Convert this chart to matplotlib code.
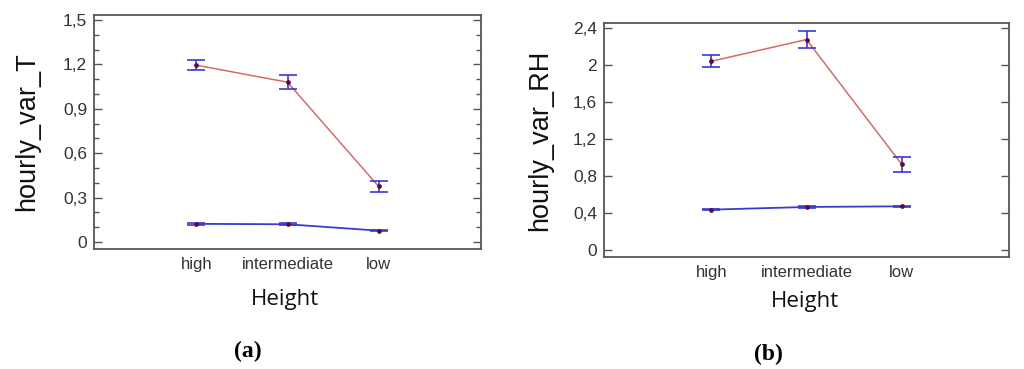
import matplotlib
matplotlib.use("Agg")
import matplotlib.pyplot as plt
from matplotlib.ticker import MultipleLocator, FuncFormatter

categories = ["high", "intermediate", "low"]

# Panel (a): hourly_var_T
t_red = [1.195, 1.08, 0.376]
t_red_err = [0.032, 0.048, 0.038]
t_blue = [0.123, 0.12, 0.077]
t_blue_err = [0.006, 0.006, 0.005]

# Panel (b): hourly_var_RH
rh_red = [2.04, 2.275, 0.925]
rh_red_err = [0.063, 0.095, 0.081]
rh_blue = [0.436, 0.465, 0.472]
rh_blue_err = [0.008, 0.008, 0.006]

t_ticks = [0, 0.3, 0.6, 0.9, 1.2, 1.5]
rh_ticks = [0, 0.4, 0.8, 1.2, 1.6, 2.0, 2.4]

RED = "#d46a6a"
BLUE = "#3a3ad0"
DOT = "#5a0a40"
SPINE = "#555555"
TXT = "#333333"
SANS = "Liberation Sans"


def comma_fmt(v, pos):
    s = ("%.1f" % v).rstrip("0").rstrip(".")
    return s.replace(".", ",")


fig = plt.figure(figsize=(10.24, 3.69), dpi=100)
ax1 = fig.add_axes([94 / 1024, 1 - 249 / 369, 387 / 1024, 234 / 369])
ax2 = fig.add_axes([604 / 1024, 1 - 257 / 369, 405 / 1024, 234 / 369])


def draw(ax, red, red_err, blue, blue_err, ticks, ylim, minor, ylabel, lpad):
    x = list(range(len(categories)))
    ax.plot(x, red, color=RED, lw=1.1, zorder=2)
    ax.plot(x, blue, color=BLUE, lw=1.3, zorder=2)
    for vals, errs in ((red, red_err), (blue, blue_err)):
        ax.errorbar(x, vals, yerr=errs, fmt="none", ecolor=BLUE, elinewidth=1.2,
                    capsize=6.2, capthick=1.2, zorder=3)
        ax.plot(x, vals, "o", ms=2.4, color=DOT, zorder=4)
    ax.set_xlim(-1.125, 3.125)
    ax.set_ylim(*ylim)
    ax.set_yticks(ticks)
    if minor:
        ax.yaxis.set_minor_locator(MultipleLocator(minor))
    ax.yaxis.set_major_formatter(FuncFormatter(comma_fmt))
    ax.set_xticks(x)
    ax.set_xticklabels(categories, family=SANS, fontsize=12, color=TXT)
    ax.tick_params(axis="x", length=0, pad=6)
    ax.tick_params(axis="y", which="major", direction="in", length=6, width=1,
                   color=SPINE, left=True, right=True, labelsize=12.5,
                   labelcolor=TXT, pad=5)
    ax.tick_params(axis="y", which="minor", direction="in", length=3.5, width=1,
                   color=SPINE, left=True, right=True)
    for lab in ax.get_yticklabels():
        lab.set_family(SANS)
    for sp in ax.spines.values():
        sp.set_color(SPINE)
        sp.set_linewidth(1.3)
    ax.set_ylabel(ylabel, family=SANS, fontsize=19.5, color="#111111", labelpad=lpad)


draw(ax1, t_red, t_red_err, t_blue, t_blue_err, t_ticks, (-0.047, 1.534), 0.1,
     "hourly_var_T", 16)
draw(ax2, rh_red, rh_red_err, rh_blue, rh_blue_err, rh_ticks, (-0.076, 2.454), None,
     "hourly_var_RH", 14)

fig.text(285 / 1024, 1 - 300 / 369, "Height", family="Open Sans", fontsize=16,
         ha="center", va="center", color="#111111")
fig.text(805 / 1024, 1 - 302 / 369, "Height", family="Open Sans", fontsize=16,
         ha="center", va="center", color="#111111")
fig.text(248 / 1024, 1 - 351 / 369, "(a)", family="Liberation Serif", fontsize=17,
         weight="bold", ha="center", va="center")
fig.text(768 / 1024, 1 - 354 / 369, "(b)", family="Liberation Serif", fontsize=17,
         weight="bold", ha="center", va="center")

fig.savefig("out.png", dpi=100)
